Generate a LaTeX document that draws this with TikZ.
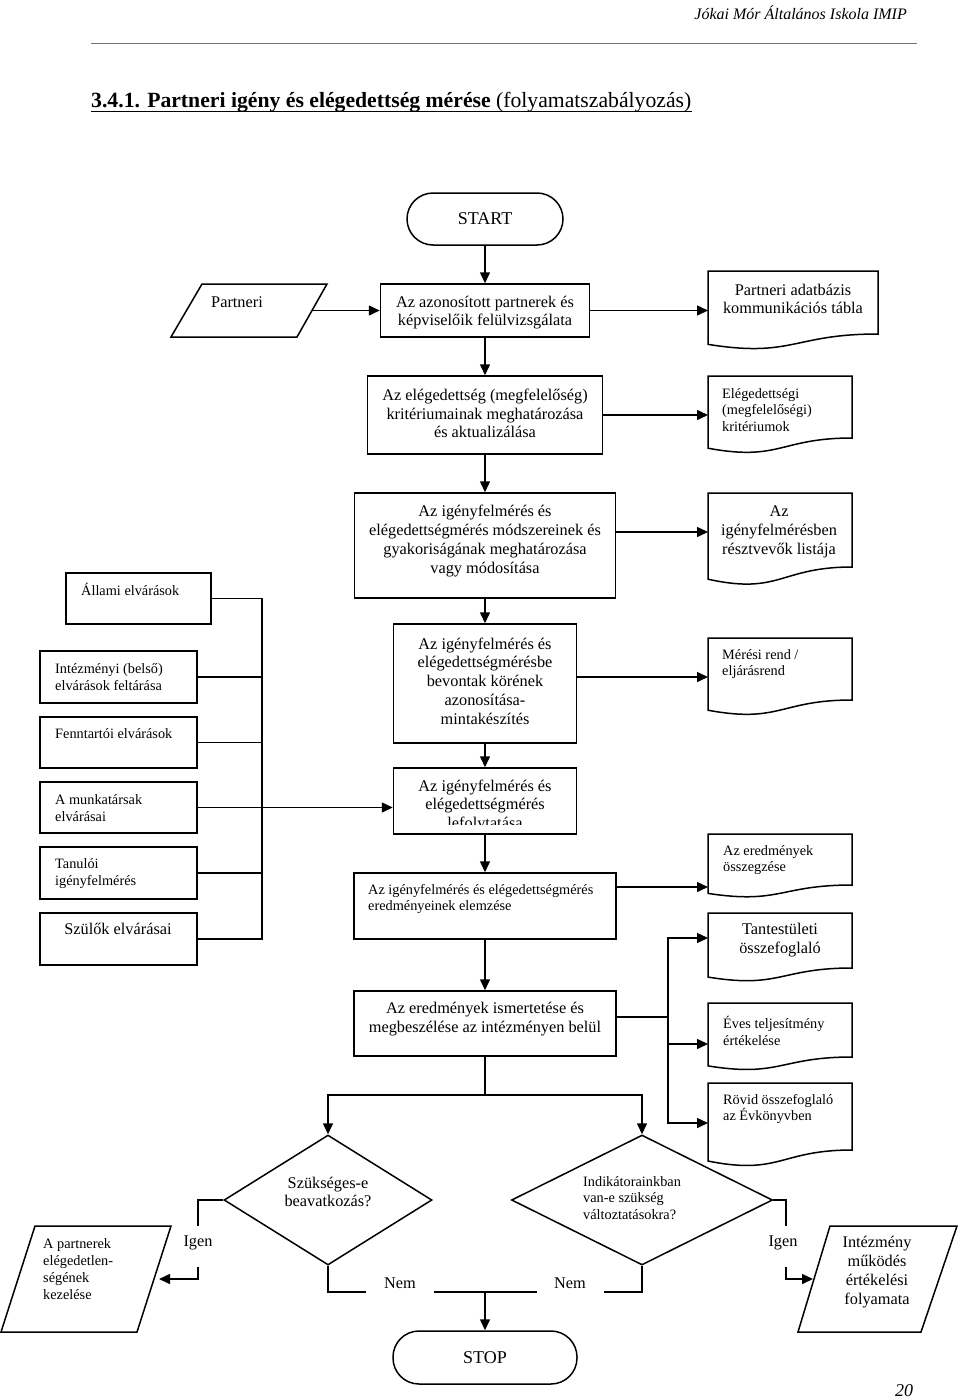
\documentclass[tikz,border=0pt]{standalone}
\usepackage{fontspec}
\setmainfont{Liberation Serif}
\usetikzlibrary{arrows.meta,shapes.geometric}
\newcommand{\mydoc}[4]{%
  \pgfmathsetmacro{\mydocH}{(#4-#3)/0.802}%
  \pgfmathsetmacro{\mydocLB}{#3+0.934*\mydocH}%
  \pgfmathsetmacro{\mydocCB}{#3+1.107*\mydocH}%
  \pgfmathsetmacro{\mydocMid}{(#1+#2)/2}%
  \draw[shp] (#1,#3) -- (#2,#3) -- (#2,#4) .. controls (\mydocMid,#4) and (\mydocMid,\mydocCB) .. (#1,\mydocLB) -- cycle;%
}
\begin{document}
\begin{tikzpicture}[x=1pt,y=-1pt,
  shp/.style={line width=1.5pt, line join=miter},
  boxn/.style={draw, line width=1.5pt, rectangle, inner sep=0pt},
  term/.style={draw, line width=1.5pt, rectangle, rounded corners=26pt, inner sep=0pt, font=\fontsize{18}{20}\selectfont},
  ln/.style={line width=1.5pt},
  arr/.style={line width=1.5pt, -{Triangle[length=11pt,width=10pt]}},
  lgt/.style={font=\fontsize{16.3}{18.8}\selectfont, inner sep=0pt, align=center},
  smt/.style={font=\fontsize{14.3}{16.8}\selectfont, inner sep=0pt, align=left},
  dia/.style={draw, diamond, line width=1.5pt, inner sep=0pt},
]
\fill[white] (0,0) rectangle (960,1400);
\useasboundingbox (0,0) rectangle (960,1400);

% header
\node[font=\fontsize{16}{18}\selectfont\itshape, anchor=east, inner sep=0pt] (hdr) at (907,13) {Jókai Mór Általános Iskola IMIP};
\coordinate (ruleL) at (91,43);
\coordinate (ruleR) at (917,43);
\draw[line width=1pt, black!55] (ruleL) -- (ruleR);
\node[anchor=base west, inner sep=0pt, font=\fontsize{21.7}{24}\selectfont] (title) at (91,107) {\textbf{3.4.1. Partneri igény és elégedettség mérése} (folyamatszabályozás)};
\draw[line width=1.4pt] ([yshift=-4.5pt]title.base west) -- ([yshift=-4.5pt]title.base east);

% main column
\node[term, minimum width=156pt, minimum height=52pt] (start) at (485,219) {START};
\node[boxn, minimum width=209pt, minimum height=53pt] (b1) at (485,310.5) {};
\node[lgt] (b1t) at (485,312.5) {Az azonosított partnerek és\\képviselőik felülvizsgálata};
\node[boxn, minimum width=235pt, minimum height=78pt] (b2) at (485,415) {};
\node[lgt] (b2t) at (485,413.5) {Az elégedettség (megfelelőség)\\kritériumainak meghatározása\\és aktualizálása};
\node[boxn, minimum width=261pt, minimum height=105pt] (b3) at (485,545.5) {};
\node[lgt] (b3t) at (485,541) {Az igényfelmérés és\\elégedettségmérés módszereinek és\\gyakoriságának meghatározása\\vagy módosítása};
\node[boxn, minimum width=183pt, minimum height=119pt] (b4) at (485,683.5) {};
\node[lgt] (b4t) at (485,681) {Az igényfelmérés és\\elégedettségmérésbe\\bevontak körének\\azonosítása-\\mintakészítés};
\node[boxn, minimum width=183pt, minimum height=66pt] (b5) at (485,801) {};
\begin{scope}
\clip (393.5,768) rectangle (576.5,824);
\node[lgt] (b5t) at (485,806) {Az igényfelmérés és\\elégedettségmérés\\lefolytatása};
\end{scope}
\node[boxn, minimum width=262pt, minimum height=66pt] (b6) at (485,906) {};
\node[smt, anchor=west] (b6t) at (368,899) {Az igényfelmérés és elégedettségmérés\\eredményeinek elemzése};
\node[boxn, minimum width=262pt, minimum height=65pt] (b7) at (485,1023.5) {};
\node[lgt] (b7t) at (485,1019) {Az eredmények ismertetése és\\megbeszélése az intézményen belül};
\node[term, minimum width=184pt, minimum height=53pt] (stop) at (485,1357.5) {STOP};

% left inputs
\draw[shp] (202,284) -- (327,284) -- (297,337) -- (171,337) -- cycle;
\node[lgt] (p1t) at (237,302) {Partneri};
\node[boxn, minimum width=145pt, minimum height=51pt] (allami) at (138.5,598.5) {};
\node[smt, anchor=west] (allamit) at (81,589) {Állami elvárások};
\node[boxn, minimum width=157pt, minimum height=52pt] (intez) at (118.5,677) {};
\node[smt, anchor=west] (intezt) at (55,677) {Intézményi (belső)\\elvárások feltárása};
\node[boxn, minimum width=157pt, minimum height=51pt] (fennt) at (118.5,742.5) {};
\node[smt, anchor=west] (fenntt) at (55,733.5) {Fenntartói elvárások};
\node[boxn, minimum width=157pt, minimum height=51pt] (munka) at (118.5,807.5) {};
\node[smt, anchor=west] (munkat) at (55,808) {A munkatársak\\elvárásai};
\node[boxn, minimum width=157pt, minimum height=52pt] (tanul) at (118.5,873) {};
\node[smt, anchor=west] (tanult) at (55,873.5) {Tanulói\\igényfelmérés};
\node[boxn, minimum width=157pt, minimum height=52pt] (szulo) at (118.5,939) {};
\node[lgt] (szulot) at (118,929) {Szülők elvárásai};

% documents
\mydoc{708}{878}{271}{334}
\node[lgt] (d1t) at (793,299) {Partneri adatbázis\\kommunikációs tábla};
\mydoc{708}{852}{376}{438}
\node[smt, anchor=west] (d2t) at (722,410) {Elégedettségi\\(megfelelőségi)\\kritériumok};
\mydoc{708}{852}{493}{567}
\node[lgt] (d3t) at (779,532) {Az\\igényfelmérésben\\résztvevők listája};
\mydoc{708}{852}{638}{700}
\node[smt, anchor=west] (d4t) at (722,664) {Mérési rend /\\eljárásrend};
\mydoc{708}{852}{834}{885}
\node[smt, anchor=west] (d5t) at (723,860) {Az eredmények\\összegzése};
\mydoc{708}{852}{913}{968}
\node[lgt] (d6t) at (780,940) {Tantestületi\\összefoglaló};
\mydoc{708}{852}{1003}{1057}
\node[smt, anchor=west] (d7t) at (723,1031) {Éves teljesítmény\\értékelése};
\mydoc{708}{852}{1083}{1150}
\node[smt, anchor=west] (d8t) at (723,1109) {Rövid összefoglaló\\az Évkönyvben};

% decisions
\node[dia, minimum width=208pt, minimum height=130pt] (dia1) at (328,1200) {};
\node[lgt] (dia1t) at (328,1192) {Szükséges-e\\beavatkozás?};
\node[dia, minimum width=261pt, minimum height=130pt] (dia2) at (642,1200) {};
\node[smt, anchor=west] (dia2t) at (583,1198) {Indikátorainkban\\van-e szükség\\változtatásokra?};

% outputs
\draw[shp] (35,1226) -- (171,1226) -- (137,1332) -- (1,1332) -- cycle;
\node[smt, anchor=west] (p2t) at (43,1269) {A partnerek\\elégedetlen-\\ségének\\kezelése};
\draw[shp] (830,1226) -- (957,1226) -- (921,1332) -- (798,1332) -- cycle;
\node[lgt] (p3t) at (877,1272) {Intézmény\\működés\\értékelési\\folyamata};

% labels
\node[lgt] (igenL) at (198,1243) {Igen};
\node[lgt] (igenR) at (783,1243) {Igen};
\node[lgt] (nemL) at (400,1283) {Nem};
\node[lgt] (nemR) at (570,1283) {Nem};
\node[font=\fontsize{18}{20}\selectfont\itshape, inner sep=0pt] (pnum) at (904,1391) {20};

% connectors
\draw[arr] (start) -- (b1);
\coordinate (p1out) at (312,310.5);
\draw[arr] (p1out) -- (b1.west);
\coordinate (d1in) at (708,310.5);
\draw[arr] (b1.east) -- (d1in);
\draw[arr] (b1) -- (b2);
\coordinate (d2in) at (708,415);
\draw[arr] (b2.east) -- (d2in);
\draw[arr] (b2) -- (b3);
\coordinate (d3in) at (708,532);
\draw[arr] (b3.east |- d3in) -- (d3in);
\draw[arr] (b3) -- (b4);
\coordinate (d4in) at (708,677);
\draw[arr] (b4.east |- d4in) -- (d4in);
\draw[arr] (b4) -- (b5);
\coordinate (lbus) at (262,598.5);
\draw[ln] (allami.east) -- (lbus) |- (szulo.east);
\draw[ln] (intez.east) -- (intez.east -| lbus);
\draw[ln] (fennt.east) -- (fennt.east -| lbus);
\draw[ln] (tanul.east) -- (tanul.east -| lbus);
\draw[arr] (munka.east) -- (munka.east -| b5.west);
\draw[arr] (b5) -- (b6);
\coordinate (d5in) at (708,887);
\draw[arr] (b6.east |- d5in) -- (d5in);
\draw[arr] (b6) -- (b7);
\coordinate (rbus) at (668,1017);
\coordinate (d6in) at (708,938);
\coordinate (d7in) at (708,1044);
\coordinate (d8in) at (708,1123);
\draw[ln] (b7.east |- rbus) -- (rbus);
\draw[arr] (rbus) |- (d6in);
\draw[arr] (rbus) |- (d8in);
\draw[arr] (d7in -| rbus) -- (d7in);
\coordinate (split) at (485,1095);
\draw[ln] (b7) -- (split);
\draw[arr] (split) -| (dia1.north);
\draw[arr] (split) -| (dia2.north);
\coordinate (igLa) at (198,1226);
\coordinate (igLb) at (198,1267);
\coordinate (p2in) at (159,1279);
\draw[ln] (dia1.west) -| (igLa);
\draw[arr] (igLb) |- (p2in);
\coordinate (igRa) at (786,1226);
\coordinate (igRb) at (786,1267);
\coordinate (p3in) at (813,1279);
\draw[ln] (dia2.east) -| (igRa);
\draw[arr] (igRb) |- (p3in);
\coordinate (nLa) at (366,1292);
\coordinate (nLb) at (434,1292);
\coordinate (nRa) at (537,1292);
\coordinate (nRb) at (604,1292);
\draw[ln] (dia1.south) |- (nLa);
\draw[ln] (nLb) -- (nRa);
\draw[ln] (nRb) -| (dia2.south);
\draw[arr] (stop |- nLb) -- (stop);
\end{tikzpicture}
\end{document}
